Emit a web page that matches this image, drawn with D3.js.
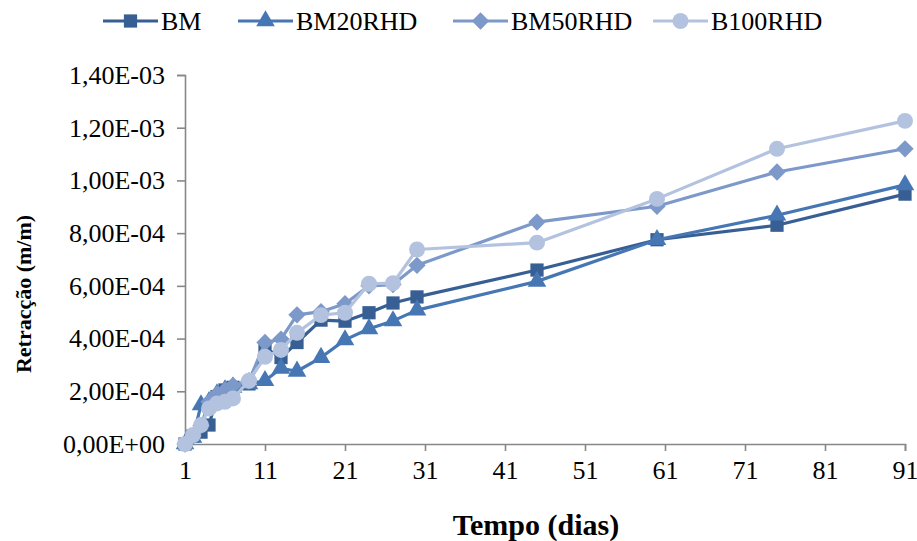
<!DOCTYPE html>
<html>
<head>
<meta charset="utf-8">
<script src="https://cdn.jsdelivr.net/npm/d3@7"></script>
<style>
  html, body { margin: 0; padding: 0; background: #fff; }
  svg { display: block; font-family: "Liberation Serif", "Times New Roman", serif; }
</style>
</head>
<body>
<svg id="chart" width="917" height="541"></svg>
<script>
// Shrinkage measurements (m/m) over time (days)
const days = [1, 2, 3, 4, 5, 6, 7, 9, 11, 13, 15, 18, 21, 24, 27, 30, 45, 60, 75, 91];
const seriesNames = ["BM", "BM20RHD", "BM50RHD", "B100RHD"];
const bm     = [0, 0.30e-4, 0.45e-4, 0.72e-4, 1.80e-4, 2.05e-4, 2.15e-4, 2.28e-4, 3.65e-4, 3.28e-4, 3.85e-4, 4.70e-4, 4.66e-4, 4.98e-4, 5.35e-4, 5.58e-4, 6.60e-4, 7.75e-4, 8.30e-4, 9.48e-4];
const bm20   = [0, 0.25e-4, 1.48e-4, 1.60e-4, 1.90e-4, 2.05e-4, 2.15e-4, 2.28e-4, 2.40e-4, 2.87e-4, 2.76e-4, 3.28e-4, 3.95e-4, 4.37e-4, 4.67e-4, 5.08e-4, 6.17e-4, 7.75e-4, 8.68e-4, 9.83e-4];
const bm50   = [0, 0.30e-4, 0.70e-4, 1.60e-4, 1.90e-4, 2.05e-4, 2.22e-4, 2.40e-4, 3.85e-4, 3.98e-4, 4.90e-4, 5.02e-4, 5.32e-4, 6.00e-4, 6.05e-4, 6.78e-4, 8.42e-4, 9.02e-4, 10.32e-4, 11.20e-4];
const b100   = [0, 0.34e-4, 0.72e-4, 1.35e-4, 1.54e-4, 1.60e-4, 1.73e-4, 2.40e-4, 3.31e-4, 3.57e-4, 4.22e-4, 4.89e-4, 4.98e-4, 6.08e-4, 6.10e-4, 7.38e-4, 7.64e-4, 9.30e-4, 11.20e-4, 12.26e-4];
const xTicks = [1, 11, 21, 31, 41, 51, 61, 71, 81, 91];
const yTicks = [0, 2e-4, 4e-4, 6e-4, 8e-4, 10e-4, 12e-4, 14e-4];

const colors  = ["#385F93", "#4677B4", "#7D99CA", "#B3C3DF"];
const valuesBySeries = [bm, bm20, bm50, b100];

// Marker shapes: square, triangle, square-diamond, circle
const diamond = {
  draw(ctx, size) {
    const r = Math.sqrt(size / 2);
    ctx.moveTo(0, -r); ctx.lineTo(r, 0); ctx.lineTo(0, r); ctx.lineTo(-r, 0); ctx.closePath();
  }
};
const symbols = [d3.symbolSquare, d3.symbolTriangle, diamond, d3.symbolCircle];
const symSize = [175, 150, 150, 200];

const svg = d3.select("#chart");
const margin = { left: 185, right: 12, top: 75, bottom: 97 };
const W = 917, H = 541;
const labelFont = "26px";

const x = d3.scaleLinear().domain([1, 91]).range([margin.left, W - margin.right]);
const y = d3.scaleLinear().domain([0, 14e-4]).range([H - margin.bottom, margin.top]);

// Scientific format with a decimal comma: 1,40E-03
function sci(v) {
  if (v === 0) return "0,00E+00";
  const e = Math.floor(Math.log10(Math.abs(v)) + 1e-9);
  const m = v / Math.pow(10, e);
  const sign = e < 0 ? "-" : "+";
  const ex = String(Math.abs(e)).padStart(2, "0");
  return m.toFixed(2).replace(".", ",") + "E" + sign + ex;
}

const axisColor = "#878787";

const yAxis = svg.append("g")
  .attr("transform", `translate(${margin.left},0)`)
  .call(d3.axisLeft(y).tickValues(yTicks).tickFormat(sci).tickSize(8).tickPadding(12));
const xAxis = svg.append("g")
  .attr("transform", `translate(0,${H - margin.bottom})`)
  .call(d3.axisBottom(x).tickValues(xTicks).tickFormat(d3.format("d")).tickSize(7).tickPadding(6));

[yAxis, xAxis].forEach(g => {
  g.select(".domain").attr("stroke", axisColor).attr("stroke-width", 1.6);
  g.selectAll(".tick line").attr("stroke", axisColor).attr("stroke-width", 1.6);
  g.selectAll(".tick text")
    .attr("fill", "#000")
    .style("font-family", '"Liberation Serif", "Times New Roman", serif')
    .style("font-size", labelFont);
});
xAxis.selectAll(".tick text").attr("dy", "0.85em");

// Axis titles
svg.append("text")
  .attr("x", 536)
  .attr("y", 535)
  .attr("text-anchor", "middle")
  .style("font-size", "30px")
  .style("font-weight", "bold")
  .text("Tempo (dias)");

svg.append("text")
  .attr("transform", "translate(31, 294) rotate(-90)")
  .attr("text-anchor", "middle")
  .style("font-size", "22px")
  .style("font-weight", "bold")
  .text("Retracção (m/m)");

// Series lines and markers
const line = d3.line().x(d => x(d[0])).y(d => y(d[1]));
valuesBySeries.forEach((vals, i) => {
  const pts = days.map((d, k) => [d, vals[k]]);
  const g = svg.append("g");
  g.append("path")
    .datum(pts)
    .attr("d", line)
    .attr("fill", "none")
    .attr("stroke", colors[i])
    .attr("stroke-width", 3.2)
    .attr("stroke-linejoin", "round");
  g.selectAll("path.m")
    .data(pts)
    .join("path")
    .attr("class", "m")
    .attr("transform", d => `translate(${x(d[0])},${y(d[1])})`)
    .attr("d", d3.symbol().type(symbols[i]).size(symSize[i]))
    .attr("fill", colors[i]);
});

// Legend
const legendX = [103, 238, 453, 653];
const legendY = 21;
seriesNames.forEach((name, i) => {
  const g = svg.append("g").attr("transform", `translate(${legendX[i]},${legendY})`);
  g.append("line").attr("x1", 0).attr("x2", 55).attr("y1", 0).attr("y2", 0)
    .attr("stroke", colors[i]).attr("stroke-width", 3.2);
  g.append("path")
    .attr("transform", "translate(27.5,0)")
    .attr("d", d3.symbol().type(symbols[i]).size(symSize[i]))
    .attr("fill", colors[i]);
  g.append("text")
    .attr("x", 58).attr("y", 0).attr("dy", "0.35em")
    .style("font-size", labelFont)
    .text(name);
});
</script>
</body>
</html>
